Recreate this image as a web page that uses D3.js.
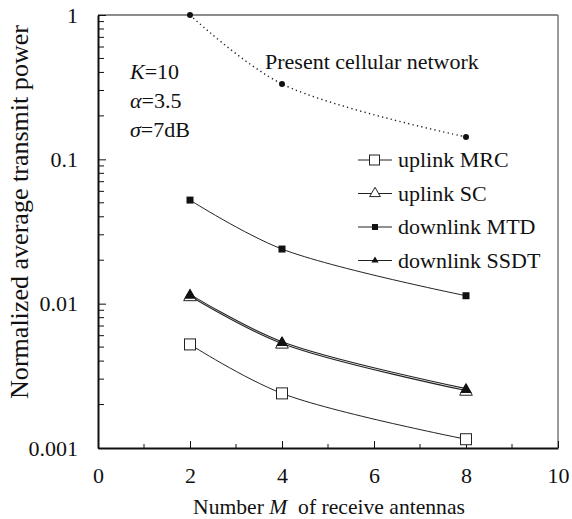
<!DOCTYPE html>
<html>
<head>
<meta charset="utf-8">
<script src="https://cdn.jsdelivr.net/npm/d3@7"></script>
<style>
  body { margin: 0; background: #fff; }
</style>
</head>
<body>
<div id="chart"></div>
<script>
"use strict";

// values
const antennas = [2, 4, 8];
const cellular = [1, 0.333, 0.143];
const uplinkMRC = [0.00522, 0.00239, 0.00115];
const uplinkSC = [0.0113, 0.0053, 0.0025];
const downlinkMTD = [0.0522, 0.0239, 0.01135];
const downlinkSSDT = [0.0116, 0.00545, 0.00258];

const xTicks = [0, 2, 4, 6, 8, 10];
const yTicks = [0.001, 0.01, 0.1, 1];
const legendNames = ["uplink MRC", "uplink SC", "downlink MTD", "downlink SSDT"];

const serif = "Liberation Serif";
const width = 572;
const height = 519;
const margin = { top: 15, right: 14, bottom: 71, left: 98 };

const svg = d3
    .select("#chart")
    .append("svg")
    .attr("width", width)
    .attr("height", height);

const xScale = d3
    .scaleLinear()
    .domain([0, 10])
    .range([margin.left, width - margin.right]);

const yScale = d3
    .scaleLog()
    .domain([0.001, 1])
    .range([height - margin.bottom, margin.top]);

const x0 = margin.left, x1 = width - margin.right;
const y0 = height - margin.bottom, y1 = margin.top;

function label(parent, x, y, size) {
    return parent.append("text")
        .attr("x", x).attr("y", y)
        .style("font-family", serif)
        .style("font-size", size + "px")
        .style("fill", "#111");
}

// scale a text's font so its length matches the given span
function fitLength(sel, target) {
    const len = sel.node().getComputedTextLength();
    const size = parseFloat(sel.style("font-size"));
    if (len > 0) sel.style("font-size", (size * target / len).toFixed(2) + "px");
}

// frame: top and right are grey
svg.append("line").attr("x1", x0).attr("x2", x1).attr("y1", y1).attr("y2", y1)
    .attr("stroke", "#666").attr("stroke-width", 1.5);
svg.append("line").attr("x1", x1).attr("x2", x1).attr("y1", y1).attr("y2", y0)
    .attr("stroke", "#777").attr("stroke-width", 1.5);

// minor ticks on y (2..9 in each decade)
const yMinor = [];
[0.001, 0.01, 0.1].forEach(d => {
    for (let k = 2; k <= 9; k++) yMinor.push(d * k);
});
svg.append("g")
    .selectAll("line")
    .data(yMinor)
    .join("line")
    .attr("x1", x0).attr("x2", x0 + 6)
    .attr("y1", d => yScale(d)).attr("y2", d => yScale(d))
    .attr("stroke", "#111").attr("stroke-width", 1);

// x minor ticks at odd numbers
svg.append("g")
    .selectAll("line")
    .data([1, 3, 5, 7, 9])
    .join("line")
    .attr("x1", d => xScale(d)).attr("x2", d => xScale(d))
    .attr("y1", y0).attr("y2", y0 - 4)
    .attr("stroke", "#111").attr("stroke-width", 1);

// Y axis
const yAxis = d3.axisLeft(yScale)
    .tickValues(yTicks)
    .tickSizeInner(-8)
    .tickSizeOuter(0)
    .tickPadding(20)
    .tickFormat(d => String(d));
const gy = svg.append("g")
    .attr("transform", `translate(${x0},0)`)
    .call(yAxis);
gy.select(".domain").attr("stroke", "#111").attr("stroke-width", 2);
gy.selectAll(".tick line").attr("stroke", "#111");
gy.selectAll(".tick text")
    .style("font-family", serif)
    .style("font-size", "22px")
    .style("fill", "#111");

// X axis
const xAxis = d3.axisBottom(xScale)
    .tickValues(xTicks)
    .tickSizeInner(-7)
    .tickSizeOuter(0)
    .tickPadding(19)
    .tickFormat(d3.format("d"));
const gx = svg.append("g")
    .attr("transform", `translate(0,${y0})`)
    .call(xAxis);
gx.select(".domain").attr("stroke", "#111").attr("stroke-width", 2);
gx.selectAll(".tick line").attr("stroke", "#111");
gx.selectAll(".tick text")
    .style("font-family", serif)
    .style("font-size", "22px")
    .style("fill", "#111");

// axis titles
const xTitle = label(svg, 329, 514, 22).attr("text-anchor", "middle");
xTitle.append("tspan").text("Number ");
xTitle.append("tspan").style("font-style", "italic").text("M");
xTitle.append("tspan").text("\u00a0 of receive antennas");
fitLength(xTitle, 272);

const yTitle = label(svg, 0, 0, 22)
    .attr("transform", "translate(28,212) rotate(-90)")
    .attr("text-anchor", "middle")
    .text("Normalized average transmit power");
fitLength(yTitle, 374);

// series lines
const line = d3.line()
    .x((d, i) => xScale(antennas[i]))
    .y(d => yScale(d))
    .curve(d3.curveCatmullRom.alpha(0.5));

svg.append("path").datum(cellular)
    .attr("d", line).attr("fill", "none")
    .attr("stroke", "#222").attr("stroke-width", 1.4)
    .attr("stroke-dasharray", "1.3,3.2");

[uplinkMRC, downlinkMTD].forEach(s => {
    svg.append("path").datum(s)
        .attr("d", line).attr("fill", "none")
        .attr("stroke", "#222").attr("stroke-width", 1);
});
[uplinkSC, downlinkSSDT].forEach(s => {
    svg.append("path").datum(s)
        .attr("d", line).attr("fill", "none")
        .attr("stroke", "#222").attr("stroke-width", 1.1);
});

// markers
const tri = d3.symbol().type(d3.symbolTriangle);
function addMarker(g, cx, cy, kind) {
    if (kind === "hollowSquare") {
        g.append("rect").attr("x", cx - 5.5).attr("y", cy - 5.5)
            .attr("width", 11).attr("height", 11)
            .attr("fill", "#fff").attr("stroke", "#222").attr("stroke-width", 1);
    } else if (kind === "hollowTri") {
        g.append("path").attr("d", tri.size(70)())
            .attr("transform", `translate(${cx},${cy + 1})`)
            .attr("fill", "#fff").attr("stroke", "#222").attr("stroke-width", 1);
    } else if (kind === "square") {
        g.append("rect").attr("x", cx - 3.5).attr("y", cy - 3.5)
            .attr("width", 7).attr("height", 7).attr("fill", "#111");
    } else if (kind === "tri") {
        g.append("path").attr("d", tri.size(60)())
            .attr("transform", `translate(${cx},${cy + 1})`)
            .attr("fill", "#111");
    } else if (kind === "dot") {
        g.append("circle").attr("cx", cx).attr("cy", cy).attr("r", 3)
            .attr("fill", "#111");
    }
}
function drawMarkers(values, kind) {
    const g = svg.append("g");
    values.forEach((v, i) => addMarker(g, xScale(antennas[i]), yScale(v), kind));
}

drawMarkers(cellular, "dot");
drawMarkers(uplinkMRC, "hollowSquare");
drawMarkers(uplinkSC, "hollowTri");
drawMarkers(downlinkMTD, "square");
drawMarkers(downlinkSSDT, "tri");

// annotation text
const params = [
    ["K", "=10"],
    ["\u03b1", "=3.5"],
    ["\u03c3", "=7dB"]
];
params.forEach((p, i) => {
    const t = label(svg, 130, 79 + i * 29, 22);
    t.append("tspan").style("font-style", "italic").text(p[0]);
    t.append("tspan").text(p[1]);
});

label(svg, 265, 69, 22).text("Present cellular network");

// legend
const legendKinds = ["hollowSquare", "hollowTri", "square", "smallTri"];
const legend = svg.append("g");
legendNames.forEach((name, i) => {
    const ly = 160 + i * 33.5;
    legend.append("line")
        .attr("x1", 358).attr("x2", 392)
        .attr("y1", ly).attr("y2", ly)
        .attr("stroke", "#222").attr("stroke-width", 1);
    const kind = legendKinds[i];
    if (kind === "hollowSquare") {
        legend.append("rect").attr("x", 369.5).attr("y", ly - 5)
            .attr("width", 10).attr("height", 10)
            .attr("fill", "#fff").attr("stroke", "#222");
    } else if (kind === "hollowTri") {
        legend.append("path").attr("d", tri.size(50)())
            .attr("transform", `translate(375,${ly})`)
            .attr("fill", "#fff").attr("stroke", "#222");
    } else if (kind === "square") {
        legend.append("rect").attr("x", 372).attr("y", ly - 3)
            .attr("width", 6).attr("height", 6).attr("fill", "#111");
    } else {
        legend.append("path").attr("d", tri.size(22)())
            .attr("transform", `translate(375,${ly})`)
            .attr("fill", "#111");
    }
    label(legend, 398, ly + 7, 22).text(name);
});
</script>
</body>
</html>
